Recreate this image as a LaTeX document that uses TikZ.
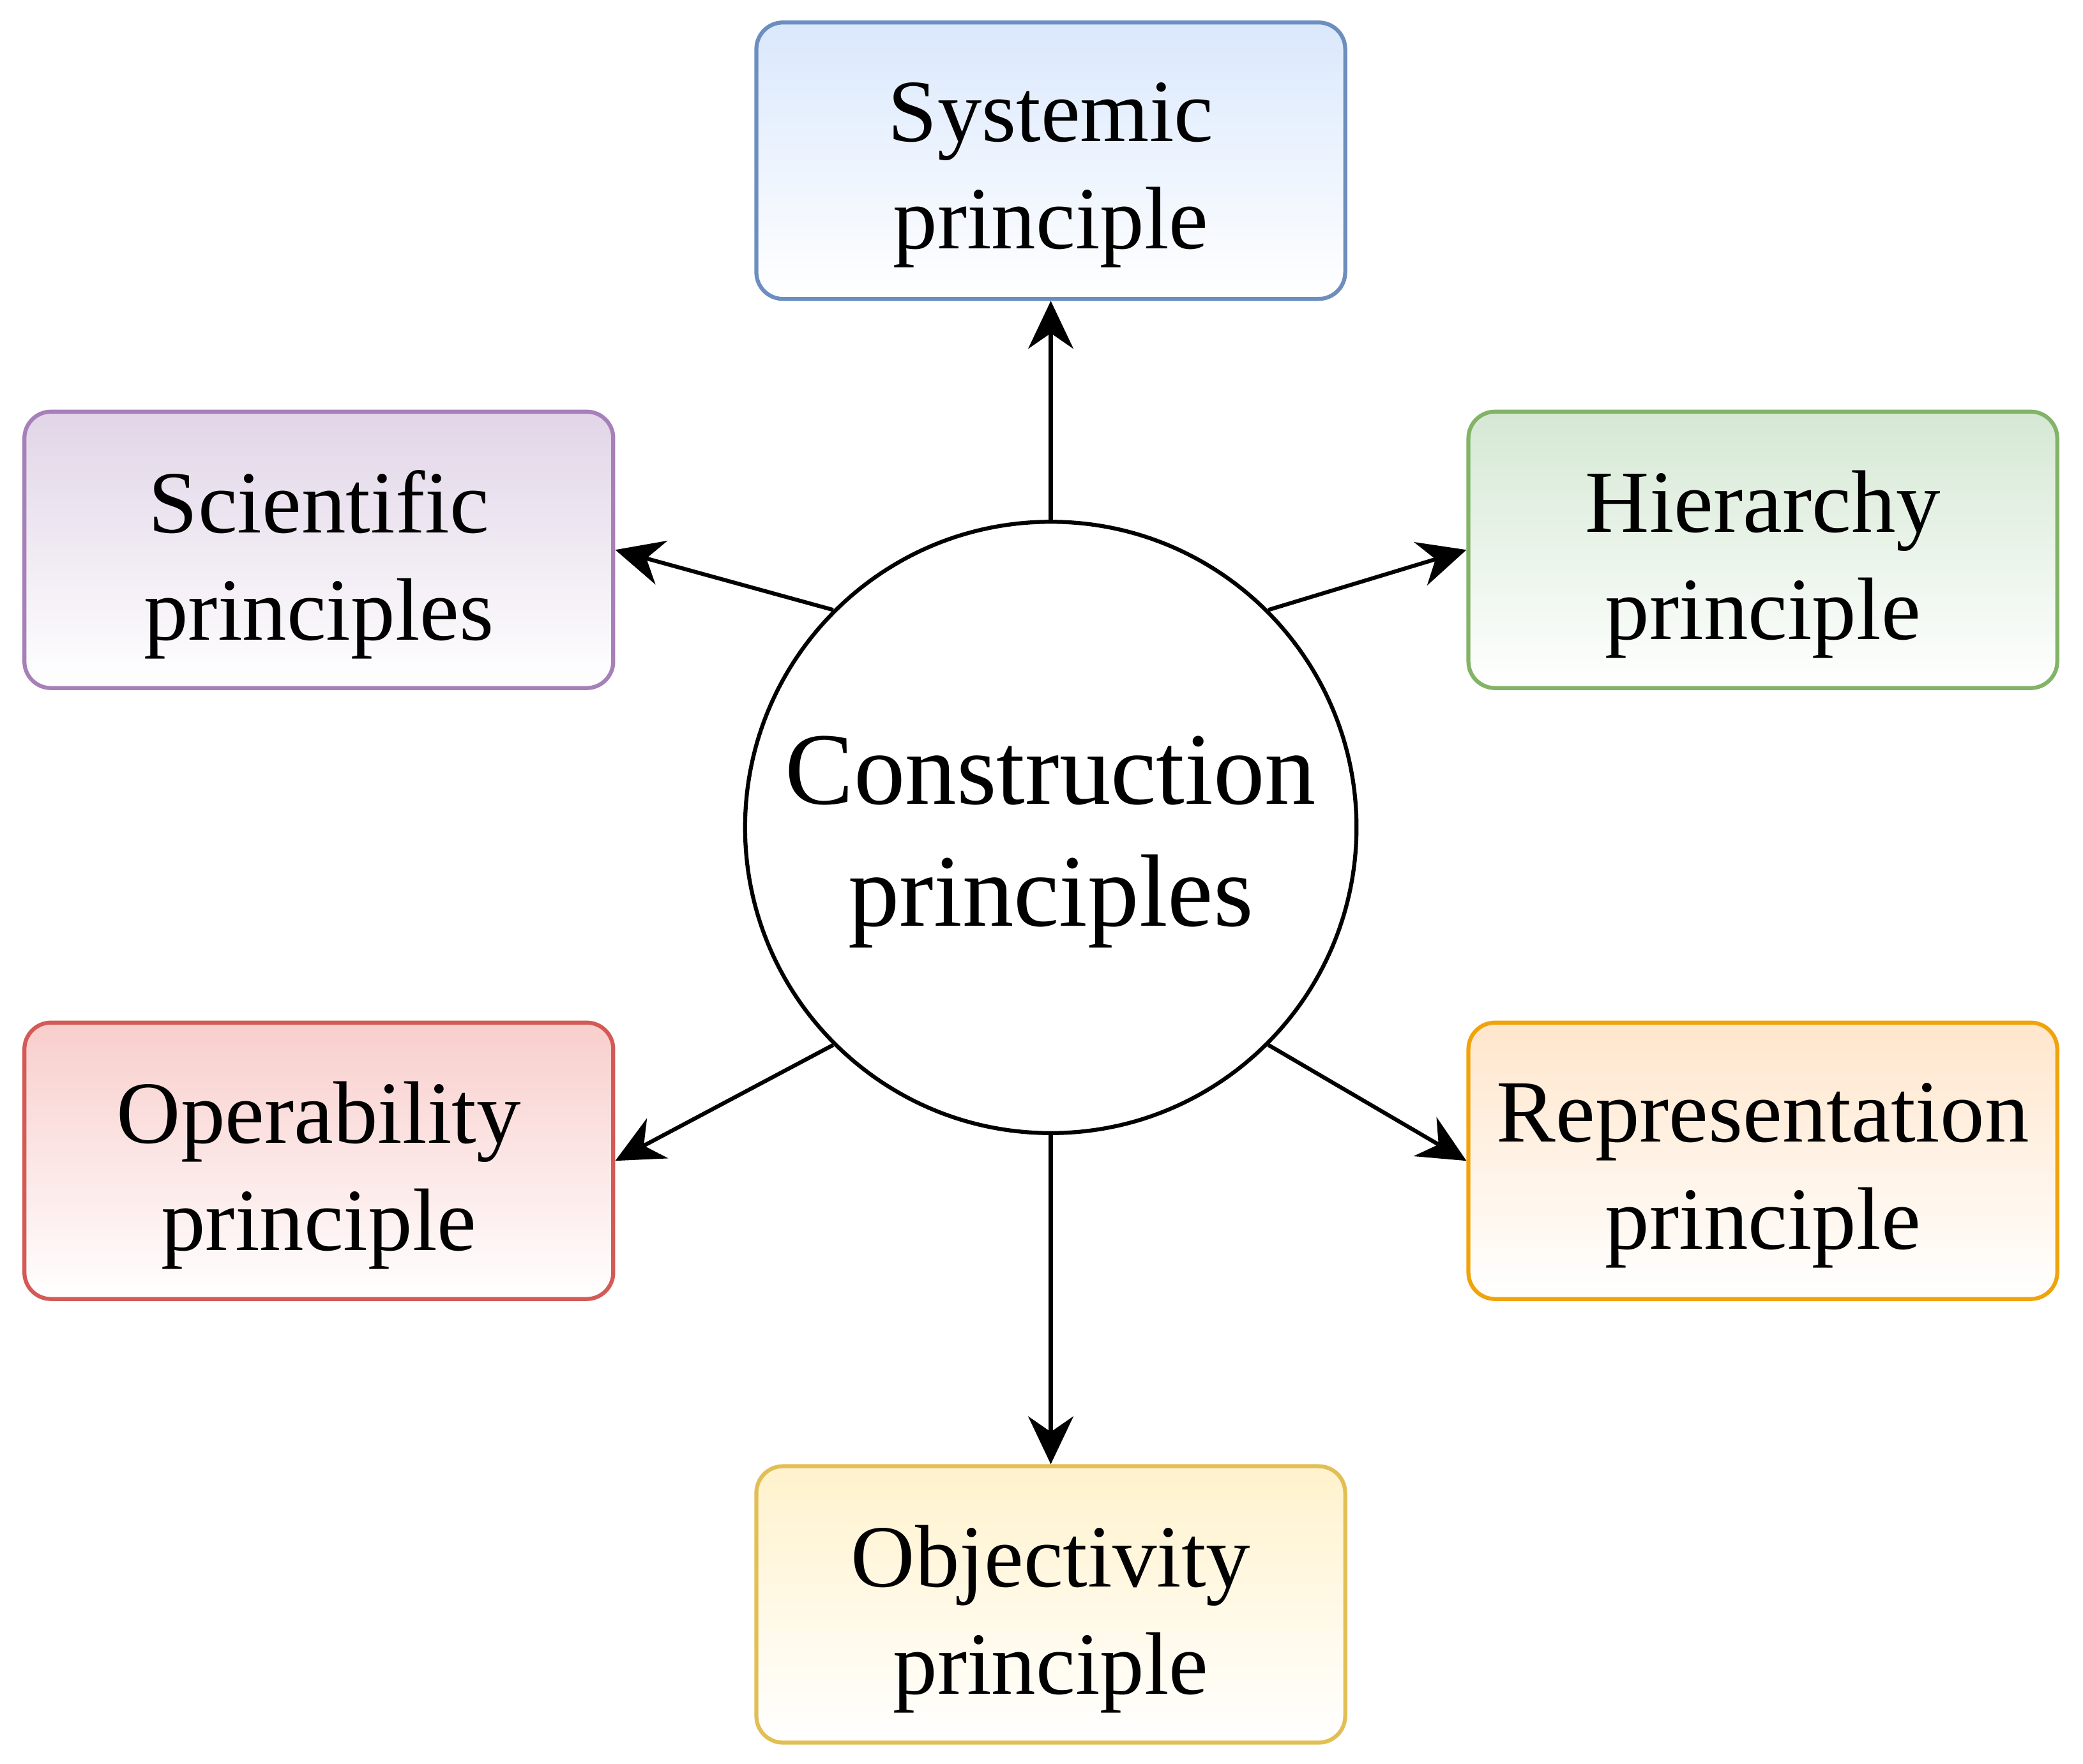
\documentclass[tikz,border=0pt]{standalone}
\usepackage{fontspec}
\setmainfont{Liberation Serif}
\usetikzlibrary{arrows.meta}
\definecolor{bF}{HTML}{DAE8FC}\definecolor{bD}{HTML}{6C8EBF}
\definecolor{pF}{HTML}{E1D5E7}\definecolor{pD}{HTML}{A680B8}
\definecolor{gF}{HTML}{D5E8D4}\definecolor{gD}{HTML}{82B366}
\definecolor{rF}{HTML}{F8CECC}\definecolor{rD}{HTML}{D35A56}
\definecolor{oF}{HTML}{FFE6CC}\definecolor{oD}{HTML}{F0A30A}
\definecolor{yF}{HTML}{FFF2CC}\definecolor{yD}{HTML}{E2BF54}
\tikzset{
  pbox/.style n args={3}{draw=#2, top color=#1, bottom color=white, line width=0.3mm,
    rounded corners=2mm, minimum width=4.43cm, minimum height=2.08cm,
    label={[yshift=-1.1mm, align=center, font=\fontsize{19}{23}\selectfont]center:#3}},
  arr/.style={line width=0.3mm, -{Stealth[length=3.6mm,width=3.4mm]}}
}
\begin{document}
\begin{tikzpicture}[x=0.01cm,y=-0.01cm]
\useasboundingbox (0,0) rectangle (1568,1328);
\node[circle, draw, line width=0.3mm, minimum size=4.6cm, inner sep=0pt,
  label={[yshift=-1.1mm, align=center, font=\fontsize{22}{26}\selectfont]center:Construction\\principles}] (c) at (791,623) {};
\node[pbox={bF}{bD}{Systemic\\principle}] (sys) at (791,121) {};
\node[pbox={pF}{pD}{Scientific\\principles}] (sci) at (240,414) {};
\node[pbox={gF}{gD}{Hierarchy\\principle}] (hie) at (1327,414) {};
\node[pbox={rF}{rD}{Operability\\principle}] (ope) at (240,874) {};
\node[pbox={oF}{oD}{Representation\\principle}] (rep) at (1327,874) {};
\node[pbox={yF}{yD}{Objectivity\\principle}] (obj) at (791,1208) {};
\draw[arr] (c.90) -- (sys.south);
\draw[arr] (c.135) -- (sci.east);
\draw[arr] (c.45) -- (hie.west);
\draw[arr] (c.225) -- (ope.east);
\draw[arr] (c.315) -- (rep.west);
\draw[arr] (c.270) -- (obj.north);
\end{tikzpicture}
\end{document}
